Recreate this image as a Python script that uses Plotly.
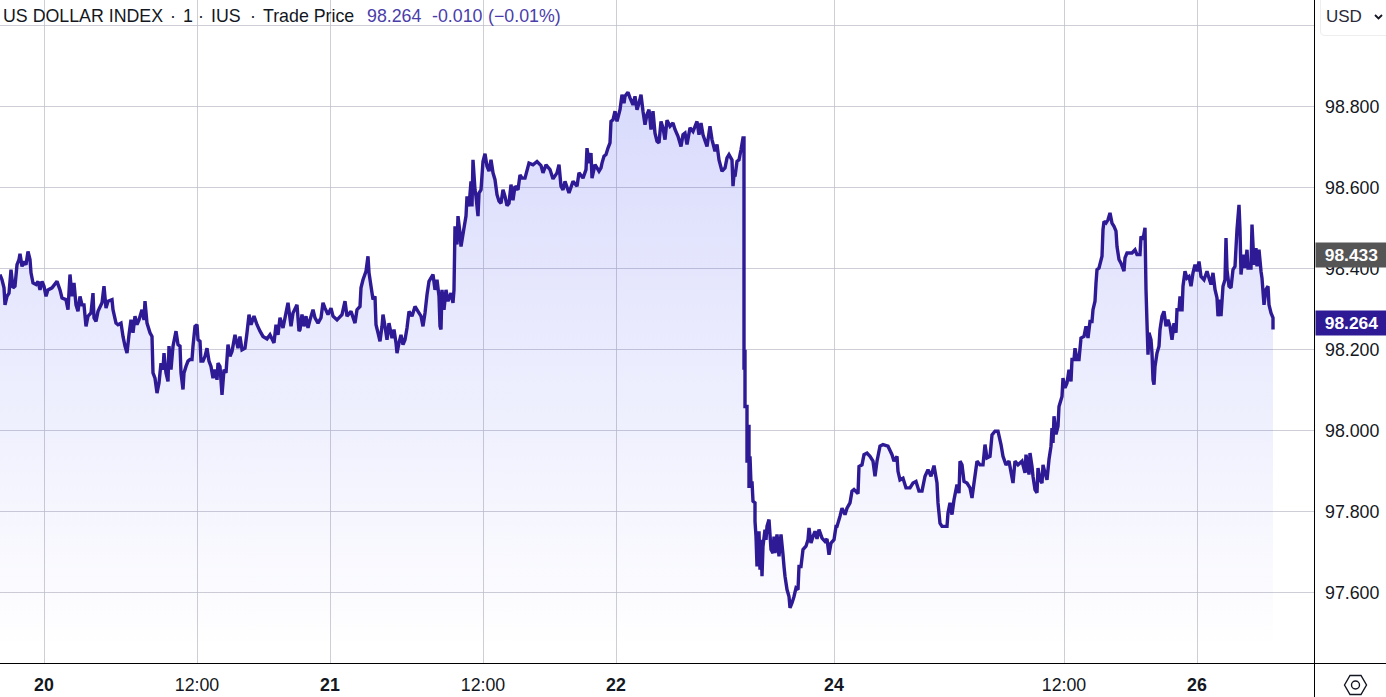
import plotly.graph_objects as go

# time slots of the compressed trading axis (one slot per drawn sample position)
slots = [0,2,4,5,7,9,11,13,15,17,19,20,22,24,26,28,30,31,33,36,38,40,42,44,46,48,52,57,60,62,66,68,70,72,74,76,78,80,82,84,86,88,91,93,94,96,98,102,104,106,108,112,113,116,118,121,123,125,127,129,131,133,135,137,139,142,144,145,147,150,152,153,155,157,159,161,163,164,166,168,169,171,173,176,178,180,181,183,184,186,188,190,192,193,195,197,198,200,201,203,205,207,209,211,213,215,217,218,220,222,224,226,228,230,232,235,238,240,242,245,247,249,251,254,257,260,263,267,270,274,276,278,280,283,286,288,291,293,297,299,
300,302,304,306,308,310,313,315,318,321,323,325,328,331,333,337,342,345,347,351,355,357,360,361,363,366,368,369,371,373,375,376,378,380,382,383,385,387,389,392,394,396,397,399,401,403,405,407,409,412,415,418,421,423,425,427,429,433,435,437,439,440,441,442,444,446,448,451,453,454,455,457,458,460,461,464,466,467,469,471,472,473,475,476,478,479,481,483,485,487,489,491,493,495,497,499,501,503,505,507,509,511,513,515,518,520,522,525,529,533,537,541,543,546,550,553,557,559,561,563,565,569,573,577,579,583,586,587,589,591,592,595,597,599,
601,602,604,606,608,610,611,613,615,617,620,622,624,625,628,630,633,635,637,639,641,643,645,647,649,651,653,655,657,659,661,663,665,667,670,673,675,678,681,683,685,687,690,693,697,699,701,703,707,710,712,715,717,719,722,725,727,729,732,733,734,735,737,739,741,743,744,
744,744,745,745,747,747,748,749,749,750,751,752,753,755,755,756,757,759,760,761,762,763,765,766,767,769,771,773,774,775,777,779,781,783,784,785,787,789,790,792,794,796,798,799,801,803,806,808,809,811,813,815,817,819,822,825,827,829,831,834,836,837,840,842,845,847,850,852,854,858,859,862,864,867,870,873,875,877,880,883,888,892,894,897,898,900,903,906,910,913,916,919,922,925,928,931,934,937,938,940,942,947,948,950,952,954,957,959,960,962,964,967,970,972,974,977,980,983,985,987,990,992,995,998,1001,1003,1006,1009,1013,1015,1018,1022,1025,1026,1029,
1030,1032,1033,1035,1037,1038,1040,1042,1043,1045,1047,1049,1051,1052,1053,1054,1056,1058,1059,1062,1063,1065,1067,1069,1071,1072,1074,1075,1077,1079,1081,1084,1086,1088,1090,1092,1093,1095,1096,1097,1099,1102,1103,1104,1106,1108,1110,1112,1114,1116,1117,1119,1121,1124,1125,1127,1132,1135,1137,1140,1141,1143,1145,1146,1147,1148,1149,1151,1152,1153,1154,1155,1157,1159,1160,1162,1164,1166,1168,1170,1172,1174,1176,1177,1179,1180,1182,1183,1185,1187,1189,1191,1193,1195,1197,1199,1201,1204,1207,1209,1211,1213,1215,1217,1218,1220,1221,1223,1225,1226,1227,1229,1231,1233,1235,1237,1239,1240,1241,1243,1245,1247,1248,1251,1252,1254,1256,1257,1259,1261,1262,1264,1266,1268,1269,1271,1273,1273]

prices = [98.384,98.371,98.351,98.309,98.330,98.338,98.396,98.351,98.355,98.408,98.421,98.435,98.404,98.416,98.408,98.441,98.421,98.388,98.363,98.359,98.367,98.346,98.367,98.355,98.330,98.346,98.351,98.367,98.346,98.326,98.322,98.297,98.384,98.330,98.363,98.309,98.293,98.330,98.309,98.309,98.256,98.281,98.289,98.338,98.277,98.268,98.293,98.314,98.355,98.301,98.318,98.322,98.297,98.264,98.260,98.264,98.231,98.207,98.190,98.235,98.272,98.240,98.281,98.260,98.272,98.297,98.272,98.318,98.264,98.240,98.231,98.141,98.128,98.091,98.116,98.165,98.149,98.190,98.141,98.120,98.207,98.149,98.207,98.244,98.211,98.207,98.141,98.100,98.141,98.157,98.170,98.174,98.174,98.207,98.256,98.260,98.223,98.219,98.170,98.170,98.182,98.202,98.170,98.157,98.128,98.149,98.124,98.165,98.157,98.087,98.149,98.141,98.211,98.182,98.194,98.235,98.202,98.231,98.198,98.202,98.240,98.285,98.260,98.281,98.260,98.244,98.231,98.225,98.235,98.215,98.260,98.235,98.277,98.252,98.289,98.314,98.256,98.289,98.309,98.244,
98.248,98.285,98.256,98.281,98.252,98.272,98.297,98.277,98.264,98.277,98.314,98.301,98.285,98.301,98.281,98.272,98.285,98.318,98.281,98.293,98.264,98.297,98.305,98.351,98.371,98.392,98.429,98.388,98.355,98.322,98.330,98.260,98.240,98.219,98.256,98.285,98.256,98.223,98.264,98.227,98.248,98.215,98.190,98.215,98.235,98.211,98.223,98.252,98.293,98.281,98.305,98.293,98.281,98.256,98.289,98.334,98.367,98.384,98.346,98.371,98.330,98.256,98.248,98.346,98.297,98.346,98.318,98.338,98.314,98.346,98.503,98.458,98.528,98.486,98.453,98.499,98.528,98.577,98.552,98.614,98.552,98.667,98.593,98.577,98.528,98.585,98.593,98.663,98.682,98.651,98.639,98.667,98.635,98.618,98.581,98.565,98.560,98.593,98.577,98.554,98.560,98.606,98.567,98.602,98.593,98.630,98.622,98.622,98.659,98.655,98.663,98.653,98.635,98.655,98.643,98.620,98.635,98.655,98.602,98.593,98.614,98.585,98.614,98.602,98.635,98.622,98.643,98.696,98.659,98.684,98.622,98.655,98.647,98.639,
98.647,98.659,98.676,98.680,98.696,98.709,98.762,98.766,98.787,98.762,98.791,98.828,98.807,98.824,98.834,98.820,98.803,98.824,98.791,98.807,98.828,98.787,98.754,98.779,98.791,98.742,98.787,98.733,98.713,98.709,98.762,98.746,98.717,98.765,98.750,98.758,98.742,98.725,98.700,98.729,98.733,98.705,98.746,98.737,98.762,98.729,98.758,98.729,98.700,98.750,98.717,98.688,98.705,98.667,98.639,98.647,98.672,98.680,98.667,98.602,98.630,98.626,98.663,98.667,98.692,98.721,98.721,
98.223,98.149,98.198,98.058,98.058,97.919,98.009,98.009,97.857,97.935,97.865,97.873,97.824,97.820,97.775,97.737,97.663,97.750,97.655,97.729,97.639,97.713,97.754,97.729,97.762,97.779,97.705,97.696,97.737,97.696,97.742,97.688,97.742,97.692,97.663,97.639,97.606,97.589,97.561,97.573,97.589,97.610,97.606,97.663,97.663,97.705,97.713,97.729,97.758,97.721,97.737,97.750,97.731,97.754,97.733,97.725,97.731,97.692,97.721,97.729,97.762,97.762,97.787,97.807,97.791,97.807,97.820,97.849,97.853,97.843,97.910,97.914,97.939,97.943,97.935,97.923,97.886,97.923,97.960,97.964,97.960,97.939,97.923,97.935,97.898,97.877,97.881,97.857,97.857,97.869,97.873,97.849,97.849,97.886,97.902,97.886,97.912,97.869,97.820,97.770,97.762,97.762,97.795,97.820,97.791,97.828,97.865,97.844,97.923,97.914,97.873,97.869,97.857,97.832,97.869,97.923,97.914,97.914,97.964,97.931,97.935,97.988,97.997,97.997,97.964,97.935,97.914,97.923,97.869,97.923,97.914,97.923,97.894,97.939,97.890,
97.943,97.910,97.886,97.853,97.845,97.906,97.877,97.869,97.914,97.894,97.877,97.927,97.960,98.005,97.968,98.034,97.989,98.009,98.058,98.083,98.128,98.104,98.116,98.149,98.120,98.174,98.174,98.202,98.174,98.174,98.227,98.231,98.256,98.227,98.268,98.268,98.297,98.318,98.363,98.396,98.400,98.429,98.495,98.515,98.511,98.519,98.536,98.511,98.503,98.491,98.453,98.421,98.412,98.392,98.425,98.437,98.437,98.445,98.433,98.433,98.478,98.470,98.499,98.347,98.264,98.186,98.240,98.223,98.190,98.124,98.112,98.157,98.190,98.207,98.248,98.281,98.293,98.256,98.272,98.256,98.223,98.264,98.240,98.297,98.297,98.330,98.293,98.355,98.392,98.375,98.379,98.355,98.388,98.408,98.392,98.416,98.379,98.371,98.392,98.375,98.359,98.388,98.347,98.326,98.281,98.322,98.281,98.355,98.371,98.474,98.396,98.355,98.351,98.396,98.404,98.495,98.556,98.495,98.384,98.433,98.400,98.445,98.400,98.400,98.507,98.408,98.449,98.404,98.445,98.392,98.375,98.309,98.347,98.355,98.309,98.289,98.277,98.248]

x_tick_slots = [44,197,330,483,616,834,1064,1197]
x_tick_labels = ["<b>20</b>","12:00","<b>21</b>","12:00","<b>22</b>","<b>24</b>","12:00","<b>26</b>"]
y_tick_values = [97.6,97.8,98.0,98.2,98.4,98.6,98.8,99.0]
y_tick_labels = ["97.600","97.800","98.000","98.200","98.400","98.600","98.800",""]
last_price = 98.264
prev_marker = 98.433

W, H = 1386, 697
PW, PH = 1314, 663
FONT = "Liberation Sans"
LINE = "#2E1A94"
TXT = 17.8
def px(x): return x / PW
def py(y): return 1 - y / PH

fig = go.Figure(go.Scatter(
    x=slots, y=prices, mode="lines", hoverinfo="skip",
    line=dict(color=LINE, width=3.4, shape="linear", simplify=False),
    fill="tozeroy",
    fillgradient=dict(type="vertical", start=97.46, stop=98.85,
                      colorscale=[[0, "rgba(60,70,240,0.0)"], [1, "rgba(60,70,240,0.2)"]]),
))

annotations = []
def label(x, text, color="#131722", size=TXT):
    annotations.append(dict(xref="paper", yref="paper", x=px(x), y=py(16), text=text, showarrow=False,
                            xanchor="left", yanchor="middle", borderpad=0, xshift=-1,
                            font=dict(family=FONT, size=size, color=color)))
label(3, "US DOLLAR INDEX")
label(170, "·"); label(183, "1"); label(198, "·"); label(211, "IUS"); label(250, "·")
label(263, "Trade Price")
PURPLE = "#4A3DAA"
label(367, "98.264", PURPLE)
label(432, "-0.010", PURPLE)
label(488, "(−0.01%)", PURPLE)

for val, col in ((prev_marker, "#555555"), (last_price, LINE)):
    annotations.append(dict(xref="paper", yref="y", x=1, y=val, text=f"<b>{val:.3f}</b>", showarrow=False,
                            xanchor="left", yanchor="middle", xshift=1, width=71, height=24, bgcolor=col, borderpad=0,
                            align="center", font=dict(family=FONT, size=17.4, color="white")))
annotations.append(dict(xref="paper", yref="paper", x=px(1344), y=py(16), text="USD", showarrow=False,
                        xanchor="center", yanchor="middle", font=dict(family=FONT, size=17, color="#2a2a3a")))

hexagon = [(1344.5, 685), (1350, 675.5), (1361, 675.5), (1366.5, 685), (1361, 694.5), (1350, 694.5)]
shapes = [
    dict(type="line", xref="paper", yref="paper", x0=px(1314.5), x1=px(1314.5), y0=py(697), y1=1, line=dict(color="#000000", width=1)),
    dict(type="line", xref="paper", yref="paper", x0=0, x1=W/PW, y0=py(663.5), y1=py(663.5), line=dict(color="#000000", width=1)),
    # currency box with a rounded lower-left corner, and its chevron
    dict(type="path", xref="paper", yref="paper",
         path=f"M {px(1320.5)},{py(-2)} L {px(1320.5)},{py(31)} Q {px(1320.5)},{py(35.5)} {px(1325)},{py(35.5)} L {px(1390)},{py(35.5)} L {px(1390)},{py(-2)} Z",
         fillcolor="white", line=dict(color="#EEEEF0", width=1)),
    dict(type="path", xref="paper", yref="paper",
         path=f"M {px(1375)},{py(15)} L {px(1378.5)},{py(18.5)} L {px(1382)},{py(15)}",
         line=dict(color="#131722", width=1.8)),
    # settings icon
    dict(type="path", xref="paper", yref="paper",
         path="M " + " L ".join(f"{px(a)},{py(b)}" for a, b in hexagon) + " Z",
         line=dict(color="#131722", width=1.4)),
    dict(type="circle", xref="paper", yref="paper", x0=px(1351.5), x1=px(1359.5), y0=py(689), y1=py(681),
         line=dict(color="#131722", width=1.4)),
]

grid = "rgba(190,190,200,0.75)"
fig.update_layout(
    width=W, height=H, autosize=False, showlegend=False,
    margin=dict(l=0, r=W-PW, t=0, b=H-PH, pad=0),
    paper_bgcolor="white", plot_bgcolor="white",
    font=dict(family=FONT, size=TXT, color="#131722"),
    annotations=annotations, shapes=shapes,
    xaxis=dict(range=[0, PW], tickmode="array", tickvals=x_tick_slots, ticktext=x_tick_labels,
               showgrid=True, gridcolor=grid, gridwidth=1, zeroline=False, showline=False, ticks="",
               ticklabelstandoff=9, tickfont=dict(family=FONT, size=TXT, color="#131722"), fixedrange=True),
    yaxis=dict(range=[98.8 - (663 - 106) / 405, 98.8 + 106 / 405], side="right", tickmode="array",
               tickvals=y_tick_values, ticktext=y_tick_labels,
               showgrid=True, gridcolor=grid, gridwidth=1, zeroline=False, showline=False, ticks="",
               ticklabelstandoff=10, ticklabelshift=1,
               tickfont=dict(family=FONT, size=TXT, color="#131722"), fixedrange=True),
)
assert len(slots) == len(prices), (len(slots), len(prices))
fig.write_html("out.html", config=dict(displayModeBar=False),
               post_script="document.body.style.margin='0';")
